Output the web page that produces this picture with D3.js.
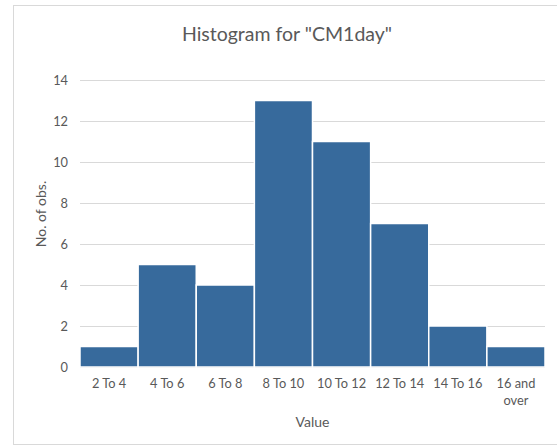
<!DOCTYPE html>
<html>
<head>
<meta charset="utf-8">
<script src="https://cdn.jsdelivr.net/npm/d3@7"></script>
<style>
  html, body { margin: 0; padding: 0; background: #fff; }
  svg { display: block; }
  text { font-family: Lato, "Open Sans", sans-serif; fill: #595959; }
</style>
</head>
<body>
<svg id="chart" width="557" height="446"></svg>
<script>
// Histogram bins and counts
const bins = ["2 To 4", "4 To 6", "6 To 8", "8 To 10", "10 To 12", "12 To 14", "14 To 16", "16 and over"];
const counts = [1, 5, 4, 13, 11, 7, 2, 1];
const yTicks = [0, 2, 4, 6, 8, 10, 12, 14];

const svg = d3.select("#chart");

// chart frame
svg.append("rect")
  .attr("x", 13.5).attr("y", 5.5)
  .attr("width", 560).attr("height", 439)
  .attr("fill", "#fff").attr("stroke", "#d9d9d9").attr("stroke-width", 1);

const plot = { left: 80, right: 545, top: 80, bottom: 367 };

const x = d3.scaleBand().domain(bins).range([plot.left, plot.right]).padding(0);
const y = d3.scaleLinear().domain([0, 14]).range([plot.bottom, plot.top]);

// gridlines
svg.append("g").selectAll("line").data(yTicks).join("line")
  .attr("x1", plot.left).attr("x2", plot.right)
  .attr("y1", d => Math.round(y(d)) + 0.5).attr("y2", d => Math.round(y(d)) + 0.5)
  .attr("stroke", "#d9d9d9").attr("stroke-width", 1);

// bars
svg.append("g").selectAll("rect").data(counts).join("rect")
  .attr("x", (d, i) => x(bins[i]))
  .attr("y", d => y(d))
  .attr("width", x.bandwidth())
  .attr("height", d => y(0) - y(d))
  .attr("fill", "#376a9c")
  .attr("stroke", "#fff").attr("stroke-width", 1.5);

const tickFont = "12.8px";

// y axis labels
const yAxis = d3.axisLeft(y).tickValues(yTicks).tickSize(0).tickPadding(12);
const gy = svg.append("g").attr("transform", `translate(${plot.left},0)`).call(yAxis);
gy.select(".domain").remove();
gy.selectAll("text").style("font-size", tickFont).attr("fill", "#595959")
  .style("font-family", "Lato, 'Open Sans', sans-serif");

// x axis labels (last one wraps onto two lines)
const xAxis = d3.axisBottom(x).tickSize(0).tickPadding(12);
const gx = svg.append("g").attr("transform", `translate(0,${plot.bottom})`).call(xAxis);
gx.select(".domain").remove();
gx.selectAll("text").style("font-size", tickFont).attr("fill", "#595959")
  .style("font-family", "Lato, 'Open Sans', sans-serif")
  .each(function(d) {
    const t = d3.select(this);
    if (d === "16 and over") {
      t.text(null);
      t.append("tspan").attr("x", 0).attr("dy", "0.71em").text("16 and");
      t.append("tspan").attr("x", 0).attr("dy", "1.3em").text("over");
      t.attr("dy", null);
    }
  });

// title
svg.append("text")
  .attr("x", 287).attr("y", 41)
  .attr("text-anchor", "middle")
  .style("font-size", "19.5px")
  .text('Histogram for "CM1day"');

// axis titles
svg.append("text")
  .attr("x", (plot.left + plot.right) / 2).attr("y", 427)
  .attr("text-anchor", "middle")
  .style("font-size", "14px")
  .text("Value");

svg.append("text")
  .attr("transform", "translate(46,214) rotate(-90)")
  .attr("text-anchor", "middle")
  .style("font-size", "14px")
  .text("No. of obs.");
</script>
</body>
</html>
